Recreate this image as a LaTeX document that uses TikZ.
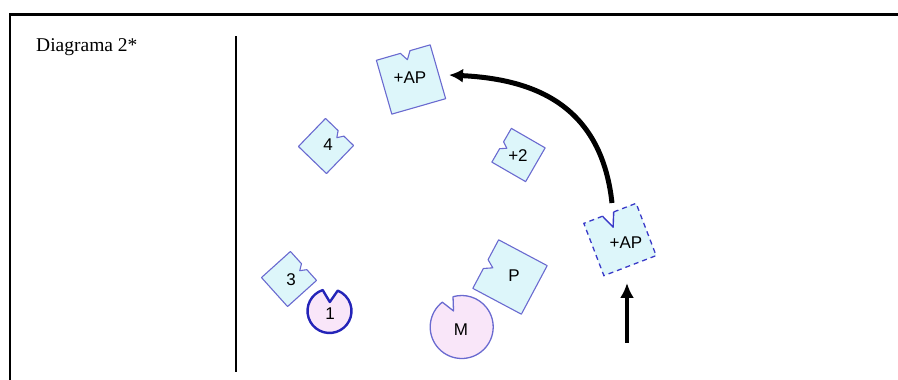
\documentclass[tikz,border=0pt]{standalone}
\usepackage{fontspec}
\setmainfont{Liberation Serif}
\newfontfamily\lab{Liberation Sans}
\usetikzlibrary{arrows.meta}
\definecolor{pedge}{HTML}{6A6AD0}
\definecolor{pfill}{HTML}{DDF6FA}
\definecolor{dedge}{HTML}{3A3AC8}
\definecolor{cfill}{HTML}{F9E6F9}
\definecolor{cdark}{HTML}{2424B8}
\tikzset{
  piece/.style={draw=pedge, fill=pfill, line width=1.1pt, line join=round},
  lbl/.style={font=\lab\fontsize{17}{17}\selectfont, inner sep=0pt},
  frame/.style={line width=2.5pt, black},
  bigarrow/.style={line width=5pt, -{Latex[length=14pt,width=14pt]}},
  uparrow/.style={line width=4pt, -{Latex[length=15pt,width=14pt]}}
}
\newcommand\notchsq[7]{%
  \begin{scope}[shift={(#1,#2)},rotate=#3]
    \path[piece] (-#4,#4) -- (#5-#6,#4) -- (#5,#4-#7) -- (#5+#6,#4) -- (#4,#4) -- (#4,-#4) -- (-#4,-#4) -- cycle;
  \end{scope}}
\begin{document}
\begin{tikzpicture}[x=1pt,y=1pt]
\useasboundingbox (0,0) rectangle (898,380);
% frame
\draw[frame] (10,0) -- (10,365.5) -- (898,365.5);
\draw[line width=2pt] (236,8) -- (236,344);
\node[anchor=base west, inner sep=0pt, font=\fontsize{19.5}{20}\selectfont] (title) at (36,328) {Diagrama 2*};

% pieces
\notchsq{411}{300.5}{16}{28}{2}{5}{8}
\notchsq{326}{234}{-44}{19.5}{2}{4}{6}
\notchsq{518.5}{225}{60}{19.5}{0}{4}{6}
\notchsq{289}{101}{-48}{19.5}{1}{4}{6}
\notchsq{510}{103}{62}{27.5}{0}{5}{8}

% dashed piece
\begin{scope}[shift={(620,140.5)},rotate=21]
  \fill[pfill] (-28,28) -- (-8,28) -- (-2,14) -- (4,28) -- (28,28) -- (28,-28) -- (-28,-28) -- cycle;
  \draw[dedge, line width=1.3pt, dash pattern=on 5pt off 4pt] (-8,28) -- (-28,28) -- (-28,-28) -- (28,-28) -- (28,28) -- (4,28);
  \draw[dedge, line width=1.4pt, line join=round] (-8,28) -- (-2,14) -- (4,28);
\end{scope}

% circles
\begin{scope}[shift={(329.5,69)},rotate=-2]
  \draw[cdark, fill=cfill, line width=2.4pt, line join=round]
    (110:22) arc[start angle=110, end angle=430, radius=22] -- (0,9) -- cycle;
\end{scope}
\begin{scope}[shift={(461.7,53)},rotate=27]
  \draw[pedge, fill=cfill, line width=1.3pt, line join=round]
    (101:31.5) arc[start angle=101, end angle=439, radius=31.5] -- (0,18) -- cycle;
\end{scope}

% labels
\node[lbl] (lap) at (410,302) {+AP};
\node[lbl] (l4) at (328,235) {4};
\node[lbl] (l2) at (518,224) {+2};
\node[lbl] (l3) at (291,100) {3};
\node[lbl] (lP) at (514,104) {P};
\node[lbl] (l1) at (330,66) {1};
\node[lbl] (lM) at (461,50) {M};
\node[lbl] (lap2) at (626,137) {+AP};

% arrows
\coordinate (arcstart) at (612,177);
\coordinate (arcend) at (449,305);
\draw[bigarrow] (arcstart) .. controls (601,278) and (530,301) .. (arcend);
\coordinate (upstart) at (627,37);
\coordinate (upend) at (627,97);
\draw[uparrow] (upstart) -- (upend);
\end{tikzpicture}
\end{document}
